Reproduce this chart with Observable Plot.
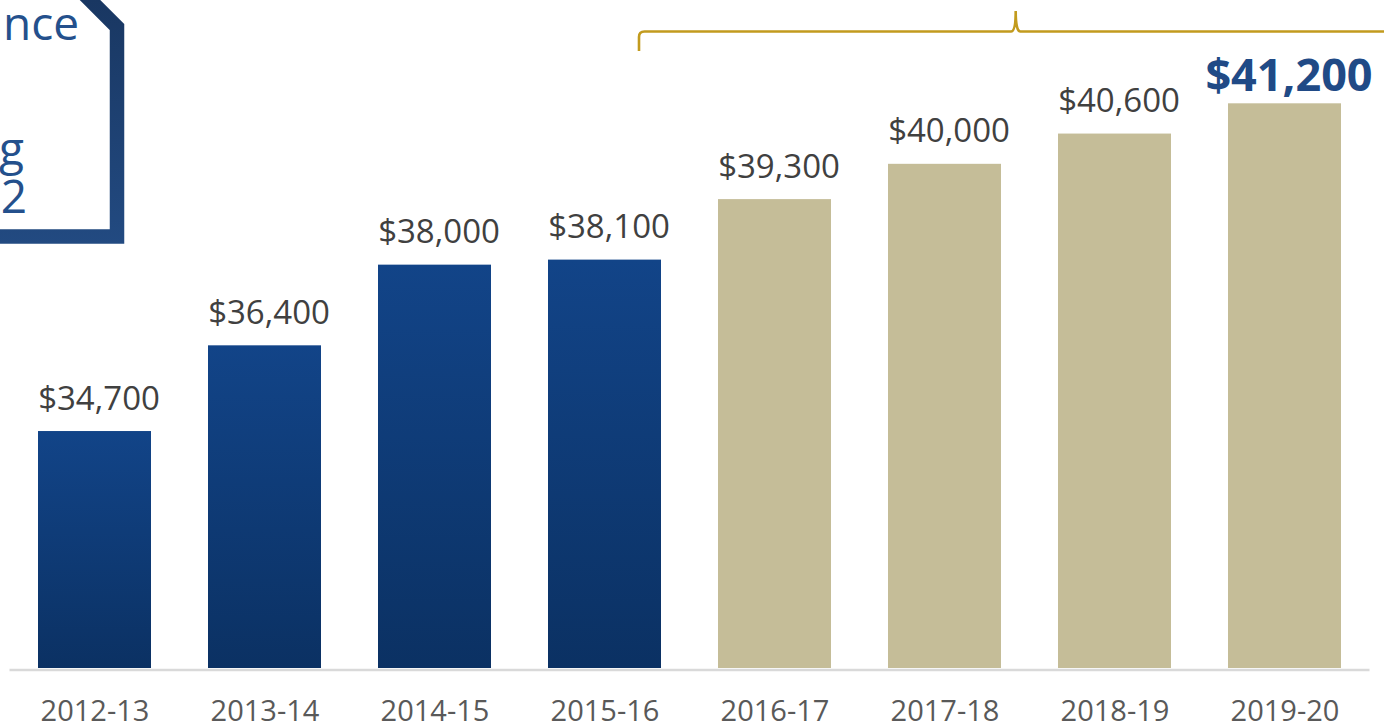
<!DOCTYPE html>
<html>
<head>
<meta charset="utf-8">
<script src="https://cdn.jsdelivr.net/npm/d3@7"></script>
<script src="https://cdn.jsdelivr.net/npm/@observablehq/plot@0.6"></script>
<style>
  html, body { margin: 0; padding: 0; background: #fff; }
  #chart { width: 1384px; height: 728px; overflow: hidden; }
</style>
</head>
<body>
<div id="chart"></div>
<script>
// ---- data ----
const years = ["2012-13", "2013-14", "2014-15", "2015-16", "2016-17", "2017-18", "2018-19", "2019-20"];
const values = [34700, 36400, 38000, 38100, 39300, 40000, 40600, 41200];
const kinds = ["actual", "actual", "actual", "actual", "projected", "projected", "projected", "projected"];
const boxText = ["nce", "g", "2"];

const data = years.map((year, i) => ({
  year,
  value: values[i],
  kind: kinds[i],
  label: "$" + d3.format(",")(values[i]),
  last: i === years.length - 1
}));

function defs() {
  const ns = "http://www.w3.org/2000/svg";
  const d = document.createElementNS(ns, "defs");
  d.innerHTML = `
    <linearGradient id="navyBar" x1="0" y1="0" x2="0" y2="1">
      <stop offset="0" stop-color="#124488"/>
      <stop offset="1" stop-color="#0b3163"/>
    </linearGradient>
    <linearGradient id="boxStroke" gradientUnits="userSpaceOnUse" x1="0" y1="0" x2="0" y2="244">
      <stop offset="0" stop-color="#193762"/>
      <stop offset="1" stop-color="#224a81"/>
    </linearGradient>`;
  return d;
}

const chart = Plot.plot({
  width: 1384,
  height: 728,
  marginLeft: 9.5,
  marginRight: 14.5,
  marginTop: 0,
  marginBottom: 60,
  style: { fontFamily: "'Open Sans', sans-serif", color: "#595959", background: "#fff" },
  x: { type: "band", domain: years, paddingInner: 0.335, paddingOuter: 0.1675, label: null },
  y: { domain: [30000, 43249], axis: null },
  marks: [
    defs,
    Plot.barY(data, {
      x: "year", y1: 30000, y2: "value",
      fill: d => d.kind === "actual" ? "url(#navyBar)" : "#c5bd98"
    }),
    Plot.ruleY([30000], { stroke: "#d9d9d9", strokeWidth: 2.5, dy: 1.5 }),
    Plot.text(data.filter(d => !d.last), {
      x: "year", y: "value", text: "label",
      lineAnchor: "bottom", dy: -22, dx: 4,
      fontSize: 33, fill: "#404040"
    }),
    Plot.text(data.filter(d => d.last), {
      x: "year", y: "value", text: "label",
      lineAnchor: "bottom", dy: -13, dx: 4,
      fontSize: 45, fontWeight: "bold", fill: "#204a86"
    }),
    Plot.axisX({ tickSize: 0, tickPadding: 32, fontSize: 29, label: null })
  ]
});

document.getElementById("chart").appendChild(chart);

// ---- annotations: bracket over projected years and the cropped title box ----
const svg = d3.select(chart);
svg.append("path")
  .attr("d", "M639,51 L639,37 Q639,31.5 644.5,31.5 L1011,31.5 Q1015.7,31.5 1015.7,11 Q1015.7,31.5 1020.4,31.5 L1392,31.5 L1392,51")
  .attr("fill", "none")
  .attr("stroke", "#c29b1e")
  .attr("stroke-width", 2.6);

svg.append("path")
  .attr("d", "M80,-10 L117,27 L117,236.5 L-20,236.5")
  .attr("fill", "none")
  .attr("stroke", "url(#boxStroke)")
  .attr("stroke-width", 14.5)
  .attr("stroke-linejoin", "miter");

const boxPos = [[79, 40], [24, 165], [27, 213]];
boxText.forEach((t, i) => {
  svg.append("text")
    .attr("x", boxPos[i][0])
    .attr("y", boxPos[i][1])
    .attr("text-anchor", "end")
    .attr("font-size", 46)
    .attr("font-family", "'Open Sans', sans-serif")
    .attr("fill", "#24508c")
    .text(t);
});
</script>
</body>
</html>
